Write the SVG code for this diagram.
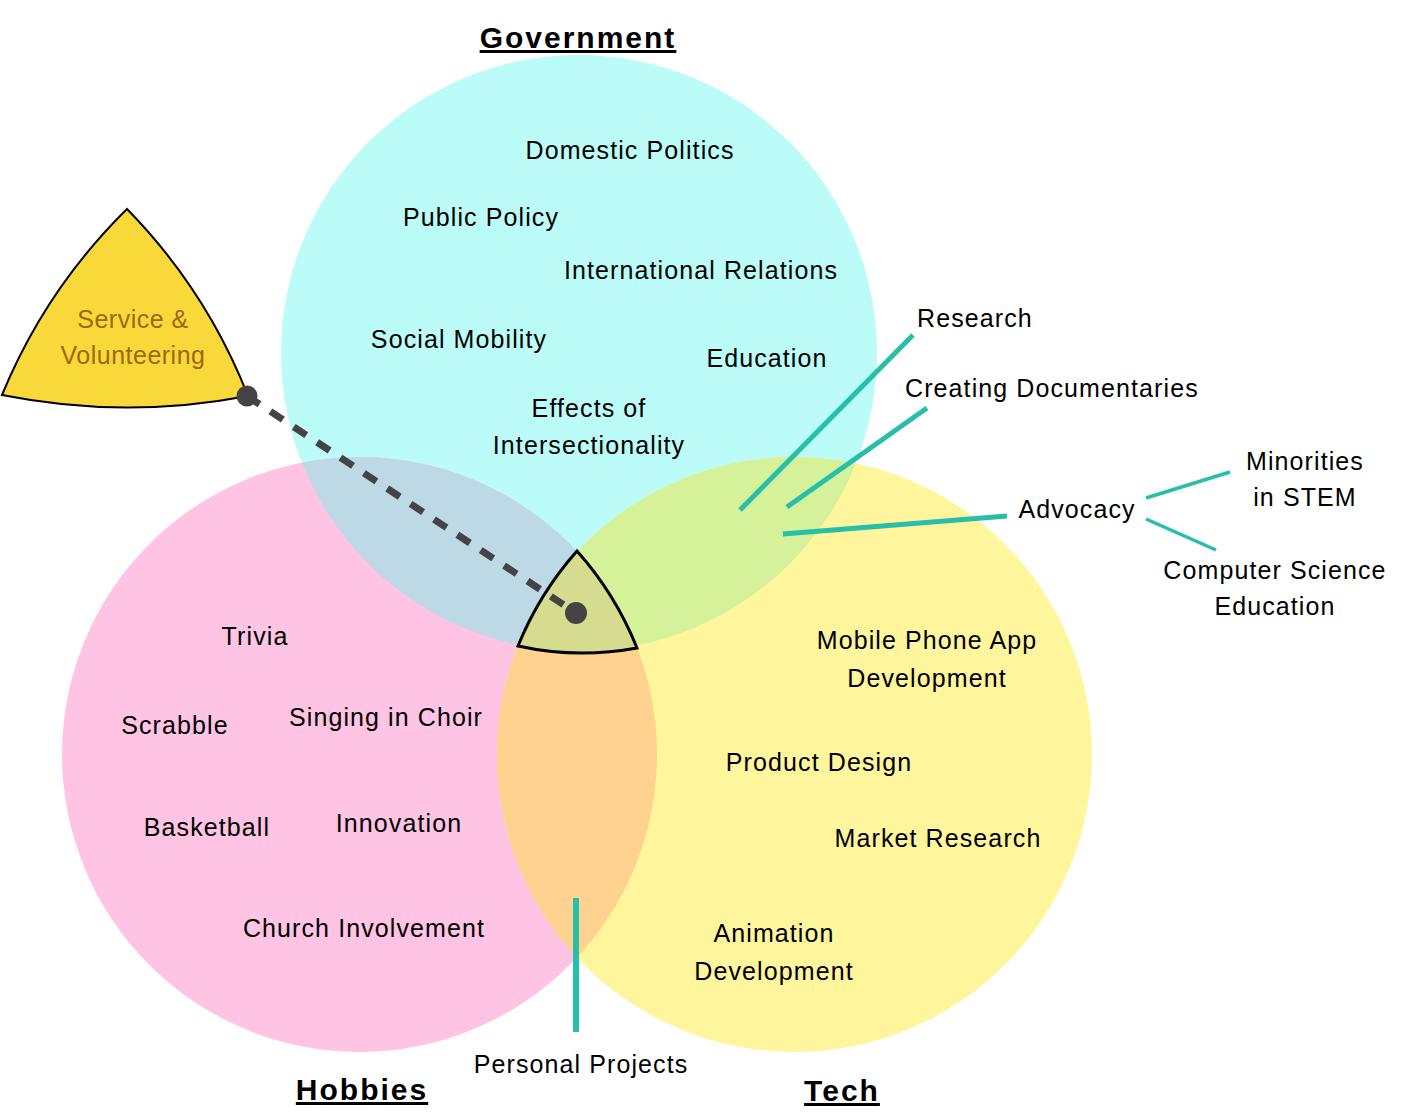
<svg xmlns="http://www.w3.org/2000/svg" width="1406" height="1118" viewBox="0 0 1406 1118">
<style>
text{font-family:"Liberation Sans",Arial,sans-serif;font-size:25px;fill:#000;letter-spacing:1.1px}
.c{text-anchor:middle}
.t{font-size:30px;font-weight:bold;text-decoration:underline;text-anchor:middle;letter-spacing:2px}
.sv{fill:#a0670c;letter-spacing:0.5px}
.teal{stroke:#27bfaa;fill:none;stroke-linecap:butt}
</style>
<defs>
<clipPath id="cg"><circle cx="579" cy="353" r="298"/></clipPath>
<clipPath id="ch"><circle cx="359.5" cy="754.5" r="297.5"/></clipPath>
<clipPath id="ct"><circle cx="794.5" cy="754.5" r="297.5"/></clipPath>
</defs>
<rect width="1406" height="1118" fill="#fff"/>
<g id="government">
<circle cx="579" cy="353" r="298" fill="#bbfbf8"/>
</g>
<g id="hobbies">
<circle cx="359.5" cy="754.5" r="297.5" fill="#ffc4e3"/>
</g>
<g id="tech">
<circle cx="794.5" cy="754.5" r="297.5" fill="#fff59d"/>
</g>
<g id="overlaps">
<circle cx="359.5" cy="754.5" r="297.5" fill="#bcd9e5" clip-path="url(#cg)"/>
<circle cx="794.5" cy="754.5" r="297.5" fill="#d5f29b" clip-path="url(#cg)"/>
<circle cx="794.5" cy="754.5" r="297.5" fill="#ffd28f" clip-path="url(#ch)"/>
</g>
<g id="center-region">
<path d="M577 551 A330 330 0 0 1 637 648 A300 300 0 0 1 518 646 A330 330 0 0 1 577 551 Z" fill="#d5dc8f" stroke="#000" stroke-width="3" stroke-linejoin="miter"/>
</g>
<g id="service">
<path d="M127 209 A560 560 0 0 1 248 396 A640 640 0 0 1 2 395 A560 560 0 0 1 127 209 Z" fill="#f9d93a" stroke="#000" stroke-width="2"/>
<text class="c sv" x="133" y="328">Service &amp;</text>
<text class="c sv" x="133" y="364">Volunteering</text>
</g>
<g id="connectors">
<line x1="247" y1="396" x2="576" y2="613" stroke="#444" stroke-width="7" stroke-dasharray="15 13"/>
<circle cx="247" cy="396" r="10.5" fill="#444"/>
<circle cx="576" cy="613" r="11" fill="#444"/>
<line class="teal" x1="740" y1="510" x2="913" y2="335" stroke-width="5"/>
<line class="teal" x1="787" y1="507" x2="927" y2="408" stroke-width="5"/>
<line class="teal" x1="783" y1="534" x2="1007" y2="516" stroke-width="5"/>
<line class="teal" x1="1146" y1="498" x2="1230" y2="472" stroke-width="3.5"/>
<line class="teal" x1="1146" y1="519" x2="1216" y2="550" stroke-width="3.5"/>
<line class="teal" x1="576" y1="898" x2="576" y2="1032" stroke-width="6"/>
</g>
<g id="titles">
<text class="t" x="578" y="48">Government</text>
<text class="t" x="362" y="1100">Hobbies</text>
<text class="t" x="842" y="1101">Tech</text>
</g>
<g id="government-items">
<text class="c" x="630" y="159">Domestic Politics</text>
<text class="c" x="481" y="226">Public Policy</text>
<text class="c" x="701" y="279">International Relations</text>
<text class="c" x="459" y="348">Social Mobility</text>
<text class="c" x="767" y="367">Education</text>
<text class="c" x="589" y="417">Effects of</text>
<text class="c" x="589" y="454">Intersectionality</text>
</g>
<g id="hobbies-items">
<text class="c" x="255" y="645">Trivia</text>
<text class="c" x="175" y="734">Scrabble</text>
<text class="c" x="386" y="726">Singing in Choir</text>
<text class="c" x="207" y="836">Basketball</text>
<text class="c" x="399" y="832">Innovation</text>
<text class="c" x="364" y="937">Church Involvement</text>
</g>
<g id="tech-items">
<text class="c" x="927" y="649">Mobile Phone App</text>
<text class="c" x="927" y="687">Development</text>
<text class="c" x="819" y="771">Product Design</text>
<text class="c" x="938" y="847">Market Research</text>
<text class="c" x="774" y="942">Animation</text>
<text class="c" x="774" y="980">Development</text>
</g>
<g id="labels">
<text x="917" y="327">Research</text>
<text x="905" y="397">Creating Documentaries</text>
<text class="c" x="1077" y="518">Advocacy</text>
<text class="c" x="1305" y="470">Minorities</text>
<text class="c" x="1305" y="506">in STEM</text>
<text class="c" x="1275" y="579">Computer Science</text>
<text class="c" x="1275" y="615">Education</text>
<text class="c" x="581" y="1073">Personal Projects</text>
</g>
</svg>
